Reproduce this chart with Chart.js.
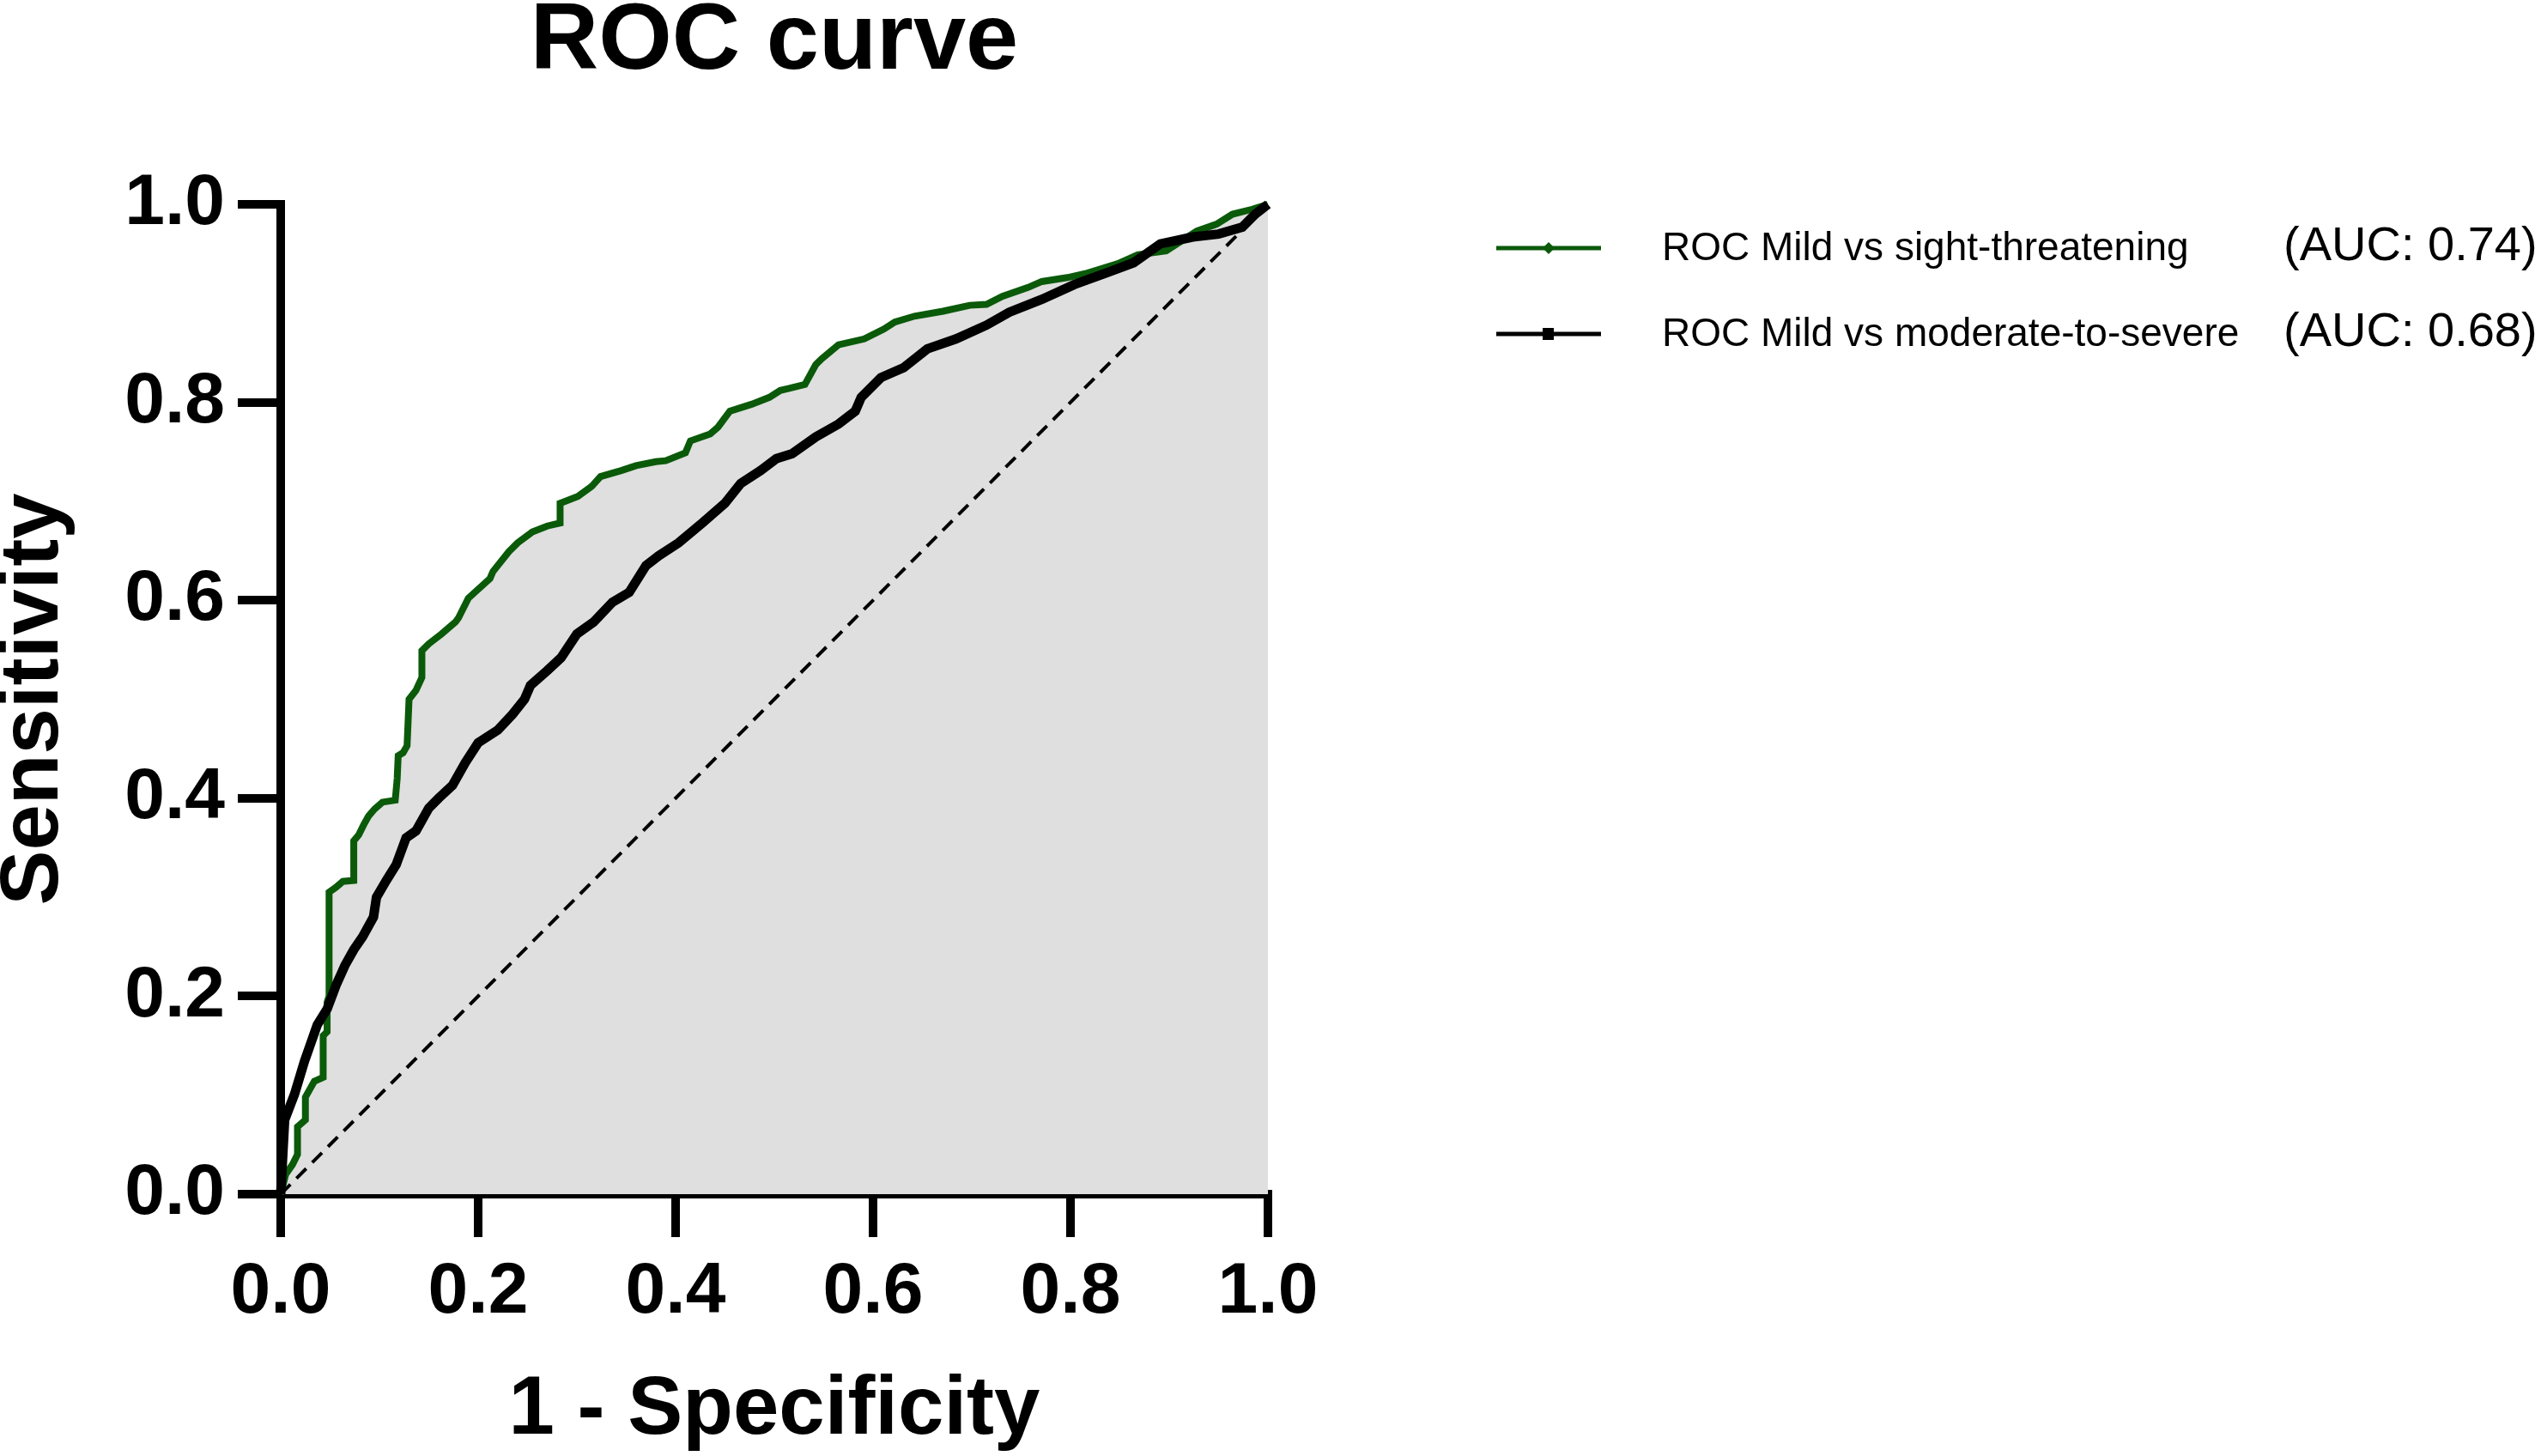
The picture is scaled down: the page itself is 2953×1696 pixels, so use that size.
<!DOCTYPE html>
<html>
<head>
<meta charset="utf-8">
<title>ROC curve</title>
<script src="https://cdn.jsdelivr.net/npm/chart.js@4.4.1/dist/chart.umd.min.js"></script>
<style>
  html, body { margin: 0; padding: 0; background: #fff; }
  #wrap { width: 2953px; height: 1696px; }
</style>
</head>
<body>
<div id="wrap"><canvas id="rocChart"></canvas></div>
<script>
// ROC CURVE DATA
const chartTitle = "ROC curve";
const seriesLabels = ["ROC Mild vs sight-threatening", "ROC Mild vs moderate-to-severe"];
const aucLabels = ["(AUC: 0.74)", "(AUC: 0.68)"];
const seriesColors = ["#0a5a0a", "#000000"];

// mild vs sight-threatening
const fprSight = [
  0, 0.005, 0.012, 0.017, 0.017, 0.025, 0.025, 0.034, 0.043, 0.043,
  0.047, 0.047, 0.049, 0.049, 0.056, 0.063, 0.074, 0.074, 0.079, 0.084,
  0.089, 0.095, 0.103, 0.116, 0.118, 0.119, 0.124, 0.128, 0.130, 0.137,
  0.143, 0.143, 0.150, 0.163, 0.177, 0.180, 0.190, 0.212, 0.215, 0.231,
  0.240, 0.255, 0.270, 0.283, 0.283, 0.301, 0.315, 0.324, 0.345, 0.360,
  0.380, 0.390, 0.410, 0.415, 0.435, 0.443, 0.455, 0.477, 0.495, 0.506,
  0.515, 0.531, 0.542, 0.548, 0.565, 0.591, 0.611, 0.622, 0.642, 0.671,
  0.698, 0.715, 0.731, 0.757, 0.771, 0.797, 0.815, 0.848, 0.868, 0.897,
  0.928, 0.948, 0.964, 0.984, 1
];
const tprSight = [
  0, 0.020, 0.030, 0.040, 0.068, 0.075, 0.098, 0.114, 0.118, 0.160,
  0.164, 0.194, 0.200, 0.305, 0.310, 0.316, 0.317, 0.357, 0.363, 0.373,
  0.382, 0.389, 0.396, 0.398, 0.420, 0.443, 0.446, 0.453, 0.500, 0.509,
  0.522, 0.549, 0.556, 0.566, 0.578, 0.582, 0.602, 0.622, 0.629, 0.649,
  0.658, 0.669, 0.675, 0.678, 0.698, 0.705, 0.715, 0.725, 0.731, 0.736,
  0.740, 0.741, 0.749, 0.761, 0.768, 0.775, 0.791, 0.798, 0.805, 0.812,
  0.814, 0.818, 0.838, 0.844, 0.858, 0.864, 0.874, 0.881, 0.887, 0.892,
  0.898, 0.899, 0.907, 0.916, 0.922, 0.926, 0.930, 0.940, 0.949, 0.953,
  0.973, 0.980, 0.990, 0.995, 1
];

// mild vs moderate-to-severe
const fprModerate = [
  0, 0.004, 0.014, 0.024, 0.031, 0.037, 0.047, 0.056, 0.065, 0.074,
  0.083, 0.094, 0.097, 0.107, 0.117, 0.127, 0.137, 0.150, 0.160, 0.174,
  0.187, 0.200, 0.220, 0.235, 0.247, 0.253, 0.270, 0.284, 0.300, 0.317,
  0.336, 0.353, 0.370, 0.383, 0.403, 0.427, 0.450, 0.466, 0.486, 0.502,
  0.518, 0.542, 0.565, 0.582, 0.588, 0.608, 0.631, 0.655, 0.684, 0.715,
  0.738, 0.771, 0.804, 0.837, 0.864, 0.891, 0.924, 0.950, 0.974, 0.987, 1
];
const tprModerate = [
  0, 0.075, 0.101, 0.134, 0.154, 0.171, 0.187, 0.211, 0.231, 0.247,
  0.260, 0.280, 0.300, 0.317, 0.333, 0.360, 0.367, 0.390, 0.400, 0.413,
  0.436, 0.456, 0.469, 0.485, 0.500, 0.514, 0.529, 0.542, 0.566, 0.578,
  0.598, 0.608, 0.635, 0.645, 0.658, 0.678, 0.698, 0.718, 0.731, 0.743,
  0.748, 0.765, 0.778, 0.791, 0.805, 0.825, 0.835, 0.854, 0.864, 0.878,
  0.891, 0.904, 0.919, 0.931, 0.941, 0.960, 0.967, 0.970, 0.977, 0.990, 1
];

// chance line
const chanceX = [0, 1];
const chanceY = [0, 1];

const toPoints = (xs, ys) => xs.map((x, i) => ({x: x, y: ys[i]}));

const sightData = toPoints(fprSight, tprSight);
const moderateData = toPoints(fprModerate, tprModerate);
const chanceData = toPoints(chanceX, chanceY);

const FONT = "'Liberation Sans', Arial, Helvetica, sans-serif";

// title centred over the plot area and the two-column legend on the right
const titleAndLegend = {
  id: "titleAndLegend",
  afterDraw(chart) {
    const c = chart.ctx;
    const area = chart.chartArea;
    c.save();
    c.fillStyle = "#000";
    c.textAlign = "center";
    c.textBaseline = "middle";
    c.font = "bold 110px " + FONT;
    c.fillText(chartTitle, (area.left + area.right) / 2, 50);

    const rowY = [289, 389];
    seriesLabels.forEach((label, i) => {
      const y = rowY[i];
      c.strokeStyle = seriesColors[i];
      c.fillStyle = seriesColors[i];
      c.lineWidth = 5;
      c.beginPath();
      c.moveTo(1743, y);
      c.lineTo(1865, y);
      c.stroke();
      c.beginPath();
      if (i === 0) {
        // small diamond
        c.moveTo(1804, y - 7);
        c.lineTo(1811, y);
        c.lineTo(1804, y + 7);
        c.lineTo(1797, y);
        c.closePath();
      } else {
        c.rect(1797, y - 7, 13, 14);
      }
      c.fill();

      c.fillStyle = "#000";
      c.textAlign = "left";
      c.font = "46px " + FONT;
      c.fillText(label, 1936, y + 1);
      c.font = "56px " + FONT;
      c.fillText(aucLabels[i], 2660, y - 1);
    });
    c.restore();
  }
};

const ctx = document.getElementById("rocChart").getContext("2d");

new Chart(ctx, {
  type: "line",
  data: {
    datasets: [
      {
        // grey area under the sight-threatening curve
        label: "area",
        data: sightData,
        borderWidth: 0,
        pointRadius: 0,
        fill: "origin",
        backgroundColor: "#dfdfdf",
        order: 4
      },
      {
        label: "chance",
        data: chanceData,
        borderColor: "#000",
        borderWidth: 4,
        borderDash: [16, 10],
        pointRadius: 0,
        fill: false,
        order: 3
      },
      {
        label: seriesLabels[0],
        data: sightData,
        borderColor: seriesColors[0],
        borderWidth: 8,
        pointRadius: 0,
        fill: false,
        clip: false,
        order: 2
      },
      {
        label: seriesLabels[1],
        data: moderateData,
        borderColor: seriesColors[1],
        borderWidth: 11,
        pointRadius: 0,
        fill: false,
        clip: false,
        order: 1
      }
    ]
  },
  options: {
    responsive: true,
    maintainAspectRatio: false,
    devicePixelRatio: 1,
    animation: false,
    layout: {
      padding: { top: 238, right: 1476, bottom: 0, left: 0 }
    },
    elements: { line: { tension: 0 } },
    plugins: {
      legend: { display: false },
      title: { display: false },
      tooltip: { enabled: false }
    },
    scales: {
      x: {
        type: "linear",
        min: 0,
        max: 1,
        border: { display: true, width: 10, color: "#000" },
        grid: {
          drawOnChartArea: false,
          drawTicks: true,
          tickLength: 50,
          lineWidth: 10,
          color: "#000"
        },
        ticks: {
          stepSize: 0.2,
          padding: 14,
          color: "#000",
          font: { family: FONT, size: 84, weight: "bold" },
          callback: v => v.toFixed(1)
        },
        title: {
          display: true,
          text: "1 - Specificity",
          color: "#000",
          font: { family: FONT, size: 96, weight: "bold", lineHeight: 1.1 },
          padding: 0
        },
        afterFit: scale => { scale.height = 305; }
      },
      y: {
        min: 0,
        max: 1,
        border: { display: true, width: 10, color: "#000" },
        grid: {
          drawOnChartArea: false,
          drawTicks: true,
          tickLength: 50,
          lineWidth: 10,
          color: "#000"
        },
        ticks: {
          stepSize: 0.2,
          padding: 15,
          color: "#000",
          font: { family: FONT, size: 84, weight: "bold" },
          callback: v => v.toFixed(1)
        },
        title: {
          display: true,
          text: "Sensitivity",
          color: "#000",
          font: { family: FONT, size: 96, weight: "bold", lineHeight: 0.85 },
          padding: 0
        },
        afterFit: scale => { scale.width = 327; }
      }
    }
  },
  plugins: [titleAndLegend]
});
</script>
</body>
</html>
